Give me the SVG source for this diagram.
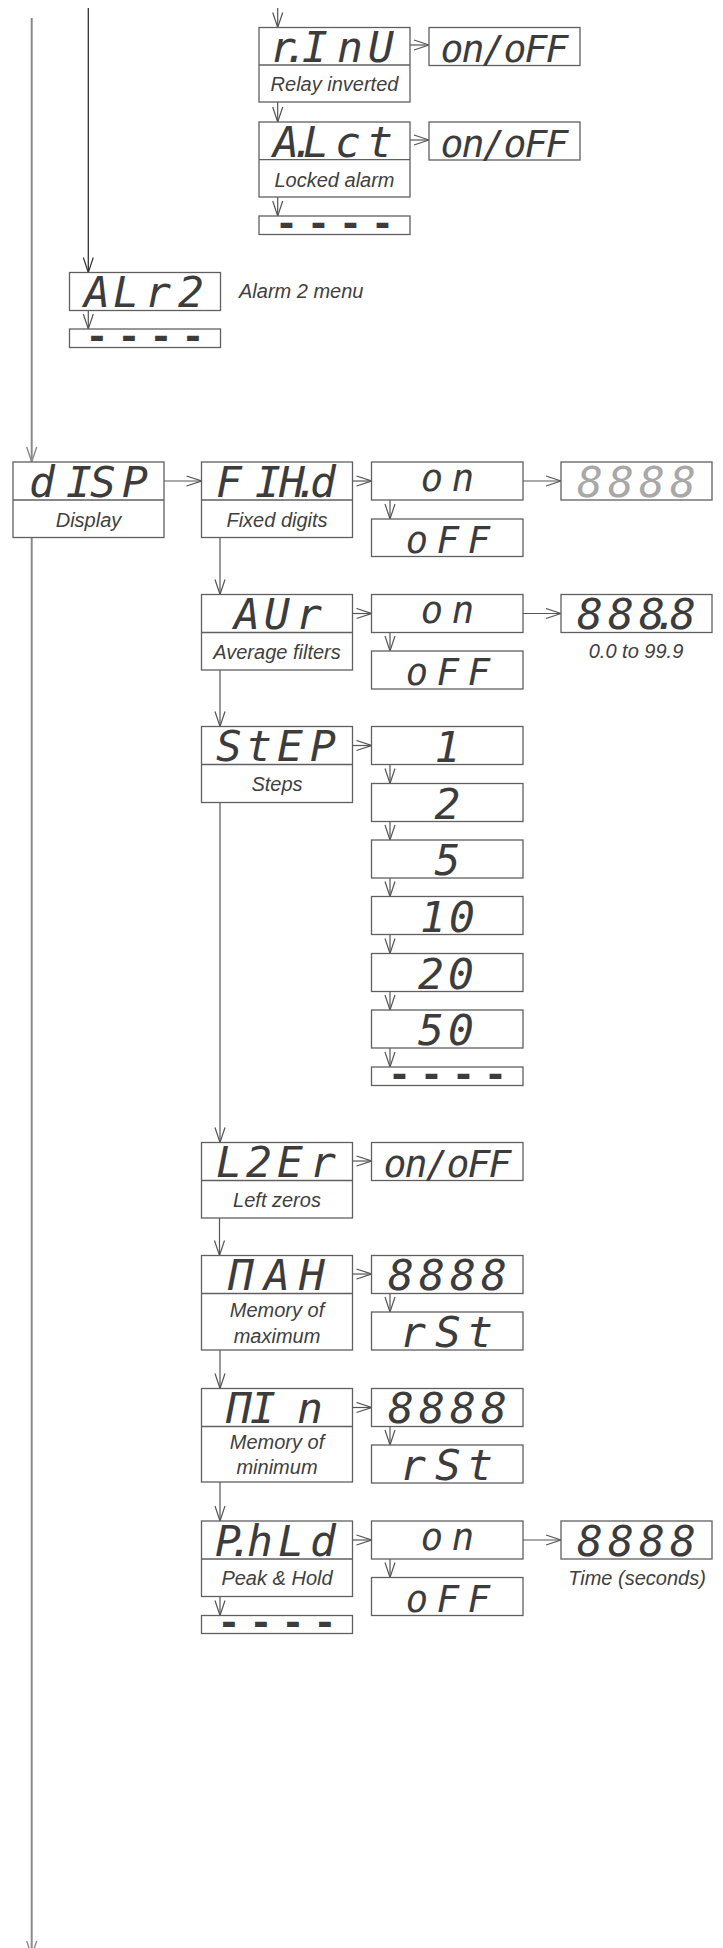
<svg xmlns="http://www.w3.org/2000/svg" width="723" height="1948" viewBox="0 0 723 1948">
<style>
.bx{fill:#fff;stroke:#606060;stroke-width:1.3}
.dv{stroke:#606060;stroke-width:1.3}
.seg{font-family:"DejaVu Sans Mono",monospace;font-style:oblique;font-size:43px;fill:#3c3c3c;text-anchor:middle}
.sv{font-size:37px}
.so{font-size:38px}
.gr{fill:#a8a8a8}
.dash{font-family:"DejaVu Sans Mono",monospace;font-weight:bold;font-size:38px;fill:#3c3c3c;text-anchor:middle}
.lbl{font-family:"Liberation Sans",Arial,sans-serif;font-style:italic;font-size:20px;fill:#404040;text-anchor:middle}
.ln{fill:none;stroke:#555;stroke-width:1.2;marker-end:url(#ah)}
.lga{fill:none;stroke:#8a8a8a;stroke-width:2;marker-end:url(#ahg)}
.ld{fill:none;stroke:#333;stroke-width:1.3;marker-end:url(#ahd)}
</style>
<defs>
<marker id="ah" viewBox="-16 -6 17 12" refX="0" refY="0" markerWidth="17" markerHeight="12" markerUnits="userSpaceOnUse" orient="auto"><path d="M-15,-5 L0,0 L-15,5" fill="none" stroke="#555" stroke-width="1.2"/></marker>
<marker id="ahg" viewBox="-16 -6 17 12" refX="0" refY="0" markerWidth="17" markerHeight="12" markerUnits="userSpaceOnUse" orient="auto"><path d="M-15,-5 L0,0 L-15,5" fill="none" stroke="#8a8a8a" stroke-width="1.4"/></marker>
<marker id="ahd" viewBox="-16 -6 17 12" refX="0" refY="0" markerWidth="17" markerHeight="12" markerUnits="userSpaceOnUse" orient="auto"><path d="M-15,-5 L0,0 L-15,5" fill="none" stroke="#333" stroke-width="1.2"/></marker>
</defs>
<rect width="723" height="1948" fill="#fff"/>

<g id="connectors">
<path class="lga" d="M31.7,18 V462"/>
<path class="lga" d="M31.7,537.5 V1956"/>
<path class="ld" d="M88.3,8 V272.5"/>
<path class="ln" d="M88.3,310.5 V329"/>
<path class="ln" d="M277.7,8 V27.5"/>
<path class="ln" d="M277.7,102 V122"/>
<path class="ln" d="M277.7,197 V216"/>
<path class="ln" d="M410,45 H429"/>
<path class="ln" d="M410,140 H429"/>
<path class="ln" d="M164,481 H201.5"/>
<path class="ln" d="M352.5,481 H371.5"/>
<path class="ln" d="M523,481 H561"/>
<path class="ln" d="M390,500 V519"/>
<path class="ln" d="M220,537.5 V594.5"/>
<path class="ln" d="M352.5,613.5 H371.5"/>
<path class="ln" d="M523,613.5 H561"/>
<path class="ln" d="M390,632.5 V651"/>
<path class="ln" d="M220,670 V726.5"/>
<path class="ln" d="M352.5,745.5 H371.5"/>
<path class="ln" d="M390,764.5 V783.5"/>
<path class="ln" d="M390,821.5 V840"/>
<path class="ln" d="M390,878 V896.5"/>
<path class="ln" d="M390,934.5 V953.5"/>
<path class="ln" d="M390,991.5 V1010"/>
<path class="ln" d="M390,1048 V1067"/>
<path class="ln" d="M220,802.5 V1142.5"/>
<path class="ln" d="M352.5,1161 H371.5"/>
<path class="ln" d="M219.5,1218 V1255.5"/>
<path class="ln" d="M352.5,1274 H371.5"/>
<path class="ln" d="M390,1293.5 V1312"/>
<path class="ln" d="M220,1350 V1388.5"/>
<path class="ln" d="M352.5,1407.5 H371.5"/>
<path class="ln" d="M390,1426.5 V1445"/>
<path class="ln" d="M220,1482 V1521"/>
<path class="ln" d="M352.5,1540 H371.5"/>
<path class="ln" d="M523,1540 H561"/>
<path class="ln" d="M390,1559 V1577.5"/>
<path class="ln" d="M220,1596.5 V1615.5"/>
</g>

<g id="n-rinu">
<rect class="bx" x="259" y="27.5" width="151" height="74.5"/>
<line class="dv" x1="259" y1="65" x2="410" y2="65"/>
<text class="seg" x="283 296 315 350 381" y="62">r.InU</text>
<text class="lbl" x="334.5" y="91">Relay inverted</text>
</g>
<g id="n-rinu-val">
<rect class="bx" x="429" y="27.5" width="151" height="38"/>
<text class="seg so" x="452 473 494 515 536 557" y="62">on/oFF</text>
</g>
<g id="n-alct">
<rect class="bx" x="259" y="122" width="151" height="75"/>
<line class="dv" x1="259" y1="159.7" x2="410" y2="159.7"/>
<text class="seg" x="286 303 316 348 380" y="156.5">A.Lct</text>
<text class="lbl" x="334.5" y="186.5">Locked alarm</text>
</g>
<g id="n-alct-val">
<rect class="bx" x="429" y="122" width="151" height="38"/>
<text class="seg so" x="452 473 494 515 536 557" y="156.5">on/oFF</text>
</g>
<g id="n-alarm-end">
<rect class="bx" x="259" y="216" width="151" height="18.5"/>
<text class="dash" x="286.5 318.5 350.5 382.5" y="235.5">----</text>
</g>

<g id="n-alr2">
<rect class="bx" x="69.5" y="272.5" width="151" height="38"/>
<text class="seg" x="97 126 158 191" y="307">ALr2</text>
<text class="lbl" x="239" y="298" style="text-anchor:start">Alarm 2 menu</text>
</g>
<g id="n-alr2-end">
<rect class="bx" x="69.5" y="329" width="151" height="18.5"/>
<text class="dash" x="97 129 161 193" y="348.5">----</text>
</g>

<g id="n-disp">
<rect class="bx" x="13" y="462" width="151" height="75.5"/>
<line class="dv" x1="13" y1="500" x2="164" y2="500"/>
<text class="seg" x="42 79 103 135" y="496.5">dISP</text>
<text class="lbl" x="88.5" y="526.5">Display</text>
</g>

<g id="n-fihd">
<rect class="bx" x="201.5" y="462" width="151" height="75.5"/>
<line class="dv" x1="201.5" y1="500" x2="352.5" y2="500"/>
<text class="seg" x="229 268 292 307 323" y="496.5">FIH.d</text>
<text class="lbl" x="277" y="526.5">Fixed digits</text>
</g>
<g id="n-fihd-on">
<rect class="bx" x="371.5" y="462" width="151.5" height="38"/>
<text class="seg sv" x="432 463" y="490.5">on</text>
</g>
<g id="n-fihd-off">
<rect class="bx" x="371.5" y="519" width="151.5" height="37.5"/>
<text class="seg sv" x="417 448 479" y="553">oFF</text>
</g>
<g id="n-fihd-digits">
<rect class="bx" x="561" y="462" width="151" height="38"/>
<text class="seg gr" x="590 621 652 683" y="496.5">8888</text>
</g>

<g id="n-avr">
<rect class="bx" x="201.5" y="594.5" width="151" height="75.5"/>
<line class="dv" x1="201.5" y1="632.5" x2="352.5" y2="632.5"/>
<text class="seg" x="247 277 309" y="629">AUr</text>
<text class="lbl" x="277" y="659">Average filters</text>
</g>
<g id="n-avr-on">
<rect class="bx" x="371.5" y="594.5" width="151.5" height="38"/>
<text class="seg sv" x="432 463" y="623">on</text>
</g>
<g id="n-avr-off">
<rect class="bx" x="371.5" y="651" width="151.5" height="38"/>
<text class="seg sv" x="417 448 479" y="685">oFF</text>
</g>
<g id="n-avr-value">
<rect class="bx" x="561" y="594.5" width="151" height="38"/>
<text class="seg" x="590 621 652 666 683" y="629">888.8</text>
<text class="lbl" x="636" y="658">0.0 to 99.9</text>
</g>

<g id="n-step">
<rect class="bx" x="201.5" y="726.5" width="151" height="76"/>
<line class="dv" x1="201.5" y1="764.5" x2="352.5" y2="764.5"/>
<text class="seg" x="229 259 290 323" y="761">StEP</text>
<text class="lbl" x="277" y="791">Steps</text>
</g>
<g id="n-step-1">
<rect class="bx" x="371.5" y="726.5" width="151.5" height="38"/>
<text class="seg" x="447.5" y="761.5">1</text>
</g>
<g id="n-step-2">
<rect class="bx" x="371.5" y="783.5" width="151.5" height="38"/>
<text class="seg" x="447.5" y="818.5">2</text>
</g>
<g id="n-step-5">
<rect class="bx" x="371.5" y="840" width="151.5" height="38"/>
<text class="seg" x="447.5" y="875">5</text>
</g>
<g id="n-step-10">
<rect class="bx" x="371.5" y="896.5" width="151.5" height="38"/>
<text class="seg" x="433 462" y="931.5">10</text>
</g>
<g id="n-step-20">
<rect class="bx" x="371.5" y="953.5" width="151.5" height="38"/>
<text class="seg" x="431 461" y="988.5">20</text>
</g>
<g id="n-step-50">
<rect class="bx" x="371.5" y="1010" width="151.5" height="38"/>
<text class="seg" x="431 461" y="1045">50</text>
</g>
<g id="n-step-end">
<rect class="bx" x="371.5" y="1067" width="151.5" height="18.5"/>
<text class="dash" x="399.5 431.5 463.5 495.5" y="1086.5">----</text>
</g>

<g id="n-lzer">
<rect class="bx" x="201.5" y="1142.5" width="151" height="75.5"/>
<line class="dv" x1="201.5" y1="1180.5" x2="352.5" y2="1180.5"/>
<text class="seg" x="229 259 290 323" y="1177">L2Er</text>
<text class="lbl" x="277" y="1207">Left zeros</text>
</g>
<g id="n-lzer-val">
<rect class="bx" x="371.5" y="1142.5" width="151.5" height="38"/>
<text class="seg so" x="395 416 437 458 479 500" y="1177">on/oFF</text>
</g>

<g id="n-max">
<rect class="bx" x="201.5" y="1255.5" width="151" height="94.5"/>
<line class="dv" x1="201.5" y1="1293.5" x2="352.5" y2="1293.5"/>
<text class="seg" x="241 277 312" y="1290">ΠAH</text>
<text class="lbl" x="277" y="1317">Memory of</text>
<text class="lbl" x="277" y="1343">maximum</text>
</g>
<g id="n-max-val">
<rect class="bx" x="371.5" y="1255.5" width="151.5" height="38"/>
<text class="seg" x="401 432 463 494" y="1290">8888</text>
</g>
<g id="n-max-rst">
<rect class="bx" x="371.5" y="1312" width="151.5" height="38"/>
<text class="seg" x="413 448 480" y="1346.5">rSt</text>
</g>

<g id="n-min">
<rect class="bx" x="201.5" y="1388.5" width="151" height="93.5"/>
<line class="dv" x1="201.5" y1="1426.5" x2="352.5" y2="1426.5"/>
<text class="seg" x="239 263 310" y="1423">ΠIn</text>
<text class="lbl" x="277" y="1448.5">Memory of</text>
<text class="lbl" x="277" y="1474">minimum</text>
</g>
<g id="n-min-val">
<rect class="bx" x="371.5" y="1388.5" width="151.5" height="38"/>
<text class="seg" x="401 432 463 494" y="1423">8888</text>
</g>
<g id="n-min-rst">
<rect class="bx" x="371.5" y="1445" width="151.5" height="38"/>
<text class="seg" x="413 448 480" y="1479.5">rSt</text>
</g>

<g id="n-phld">
<rect class="bx" x="201.5" y="1521" width="151" height="75.5"/>
<line class="dv" x1="201.5" y1="1559" x2="352.5" y2="1559"/>
<text class="seg" x="228 241 260 291 323" y="1555.5">P.hLd</text>
<text class="lbl" x="277" y="1585">Peak &amp; Hold</text>
</g>
<g id="n-phld-on">
<rect class="bx" x="371.5" y="1521" width="151.5" height="38"/>
<text class="seg sv" x="432 463" y="1549.5">on</text>
</g>
<g id="n-phld-off">
<rect class="bx" x="371.5" y="1577.5" width="151.5" height="38"/>
<text class="seg sv" x="417 448 479" y="1611.5">oFF</text>
</g>
<g id="n-phld-time">
<rect class="bx" x="561" y="1521" width="151" height="38"/>
<text class="seg" x="590 621 652 683" y="1555.5">8888</text>
<text class="lbl" x="637" y="1585">Time (seconds)</text>
</g>
<g id="n-disp-end">
<rect class="bx" x="201.5" y="1615.5" width="151" height="18"/>
<text class="dash" x="229 261 293 325" y="1635">----</text>
</g>
</svg>
